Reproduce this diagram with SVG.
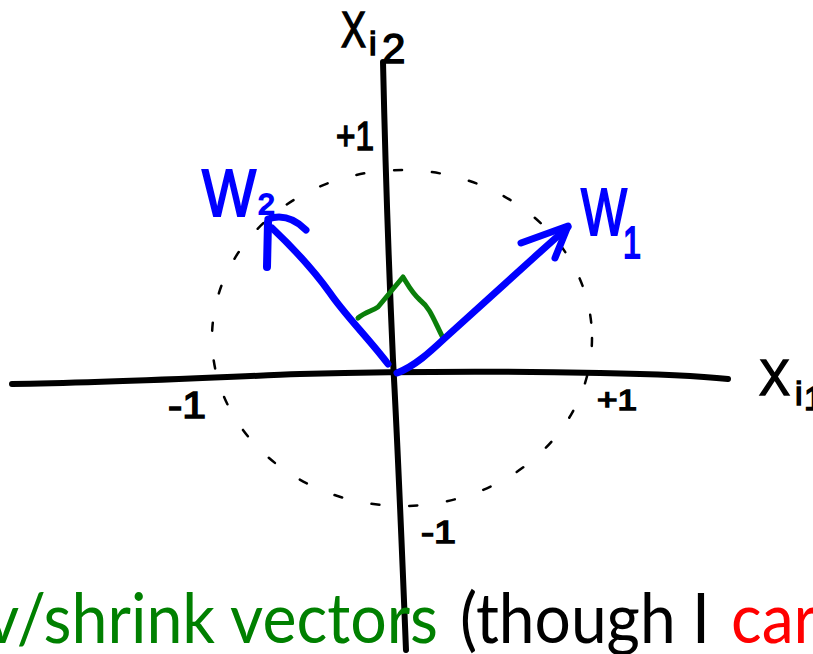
<svg xmlns="http://www.w3.org/2000/svg" width="813" height="654" viewBox="0 0 813 654">
<style>
.ax{fill:none;stroke:#000;stroke-width:6;stroke-linecap:round;stroke-linejoin:round}
.vec{fill:none;stroke:#0000ff;stroke-width:7;stroke-linecap:round;stroke-linejoin:round}
.ang{fill:none;stroke:#0a7f0a;stroke-width:5;stroke-linecap:round;stroke-linejoin:round}
.circ{fill:none;stroke:#000;stroke-width:2.5;stroke-dasharray:8 30;stroke-linecap:round}
.hw{font-family:"Liberation Sans",Arial,sans-serif;fill:#000;stroke:#000;stroke-width:1.5}
.hwb{font-family:"Liberation Sans",Arial,sans-serif;fill:#0000ff;stroke:#0000ff;stroke-width:2}
.cap{font-family:Lato,"Open Sans",sans-serif;font-size:70px}
</style>
<rect width="813" height="654" fill="#fff"/>
<g id="unit-circle">
<ellipse class="circ" cx="402" cy="338" rx="190" ry="168"/>
</g>
<g id="axes">
<path class="ax" d="M12,384 C100,383 200,378 300,374 C380,372 500,371 600,373 C660,374 700,376 728,379"/>
<path class="ax" d="M383,62 C385,150 388,250 393,360 C398,450 402,550 406,650"/>
</g>
<g id="axis-labels">
<text class="hw" font-size="50"><tspan x="341" y="47" textLength="25" lengthAdjust="spacingAndGlyphs">X</tspan><tspan x="369" y="55" font-size="34">i</tspan><tspan x="382" y="63" font-size="42">2</tspan></text>
<text class="hw" font-size="50"><tspan x="759" y="395" textLength="31" lengthAdjust="spacingAndGlyphs">X</tspan><tspan x="795" y="405" font-size="34">i</tspan><tspan x="804" y="410" font-size="34">1</tspan></text>
<text class="hw" x="336" y="150" font-size="40" textLength="38" lengthAdjust="spacingAndGlyphs">+1</text>
<text class="hw" x="168" y="418" font-size="36" textLength="38" lengthAdjust="spacingAndGlyphs">-1</text>
<text class="hw" x="597" y="410" font-size="30" textLength="40" lengthAdjust="spacingAndGlyphs">+1</text>
<text class="hw" x="421" y="543" font-size="32" textLength="35" lengthAdjust="spacingAndGlyphs">-1</text>
</g>
<g id="angle">
<path class="ang" d="M358,318 C365,312 372,311 378,307 L403,277 C408,285 412,293 420,300 C430,308 433,318 443,338"/>
</g>
<g id="w1">
<path class="vec" d="M397,373 C415,366 430,352 445,338 S520,270 568,227"/>
<path class="vec" d="M521,243 L568,226 L555,258"/>
<text class="hwb" font-size="66"><tspan x="581" y="235" textLength="46" lengthAdjust="spacingAndGlyphs">W</tspan><tspan x="623" y="258" font-size="44" textLength="18" lengthAdjust="spacingAndGlyphs">1</tspan></text>
</g>
<g id="w2">
<path class="vec" d="M388,364 C370,340 345,315 330,293 C310,265 290,245 272,228"/>
<path class="vec" d="M268,219 Q288,212 306,230"/>
<path class="vec" style="stroke-width:8" d="M268,222 L267,267"/>
<text class="hwb" font-size="66"><tspan x="202" y="216" textLength="54" lengthAdjust="spacingAndGlyphs">W</tspan><tspan x="258" y="214" font-size="30">2</tspan></text>
</g>
<g id="caption">
<text class="cap" x="-14" y="643" fill="#008000" textLength="452" lengthAdjust="spacingAndGlyphs">v/shrink vectors</text>
<text class="cap" x="460" y="643" fill="#000" textLength="250" lengthAdjust="spacingAndGlyphs">(though I</text>
<text class="cap" x="731" y="643" fill="#ff0000" textLength="86" lengthAdjust="spacingAndGlyphs">car</text>
</g>
</svg>
